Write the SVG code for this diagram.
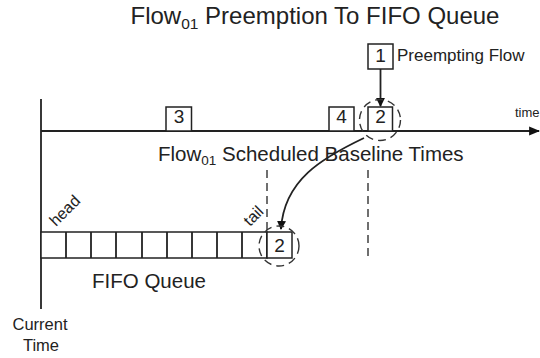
<svg xmlns="http://www.w3.org/2000/svg" width="540" height="358" viewBox="0 0 540 358">
<defs>
<style>
text{font-family:"Liberation Sans",Arial,sans-serif;fill:#222}
.ln{stroke:#222;stroke-width:1.8;fill:none}
.bx{stroke:#222;stroke-width:1.5;fill:#fff}
.dash{stroke:#333;stroke-width:1.4;fill:none;stroke-dasharray:8,5}
.num{font-size:19px;text-anchor:middle}
</style>
<marker id="ah" viewBox="0 0 10 10" refX="9" refY="5" markerWidth="9" markerHeight="9" orient="auto" markerUnits="userSpaceOnUse">
<path d="M0,0 L10,5 L0,10 z" fill="#111"/>
</marker>
<marker id="ah2" viewBox="0 0 10 10" refX="9" refY="5" markerWidth="11" markerHeight="11" orient="auto" markerUnits="userSpaceOnUse">
<path d="M0,1 L10,5 L0,9 z" fill="#111"/>
</marker>
</defs>
<text x="315" y="24" font-size="24" text-anchor="middle">Flow<tspan font-size="15.5" dy="5">01</tspan><tspan dy="-5"> Preemption To FIFO Queue</tspan></text>

<g id="connectors">
<line class="ln" x1="41" y1="99" x2="41" y2="309"/>
<line class="ln" x1="41" y1="131" x2="539" y2="131" marker-end="url(#ah2)"/>
<line class="ln" stroke-width="1.5" x1="380.5" y1="69" x2="380.5" y2="106" marker-end="url(#ah)"/>
<path class="ln" stroke-width="1.3" d="M364,138 C322,158 284,180 281,229" marker-end="url(#ah)"/>
<line class="dash" x1="267" y1="170" x2="267" y2="232"/>
<line class="dash" x1="368" y1="170" x2="368" y2="258"/>
</g>

<g id="box3"><rect class="bx" x="166" y="107" width="25.5" height="24"/><text class="num" x="179" y="123">3</text></g>
<g id="box4"><rect class="bx" x="329" y="107" width="25" height="24"/><text class="num" x="341.5" y="123">4</text></g>
<g id="box2"><rect class="bx" x="368" y="107" width="24.5" height="24"/><text class="num" x="380.5" y="123">2</text>
<circle class="dash" cx="380" cy="120" r="20.5"/></g>
<g id="box1"><rect class="bx" x="368" y="44" width="25" height="25"/><text class="num" x="380.5" y="62">1</text>
<text x="397" y="61" font-size="17">Preempting Flow</text></g>
<text x="515" y="117" font-size="13">time</text>
<text x="158" y="161" font-size="20.5">Flow<tspan font-size="13.5" dy="4">01</tspan><tspan dy="-4"> Scheduled Baseline Times</tspan></text>

<g id="queue">
<rect class="bx" x="41" y="232" width="226" height="26"/>
<path class="ln" d="M66,232V258M91,232V258M116,232V258M142,232V258M167,232V258M192,232V258M217,232V258M242,232V258M267,232V258"/>
<text x="56" y="227" font-size="16" transform="rotate(-45 56 227)">head</text>
<text x="250" y="227" font-size="16" transform="rotate(-45 250 227)">tail</text>
</g>
<g id="qbox2"><rect class="bx" x="267" y="232" width="25" height="26"/><text class="num" x="279.5" y="252">2</text>
<circle class="dash" cx="279" cy="246" r="20"/></g>
<text x="92" y="288" font-size="20.5">FIFO Queue</text>
<text x="40" y="330" font-size="16.5" text-anchor="middle">Current</text>
<text x="41" y="351" font-size="16.5" text-anchor="middle">Time</text>
</svg>
